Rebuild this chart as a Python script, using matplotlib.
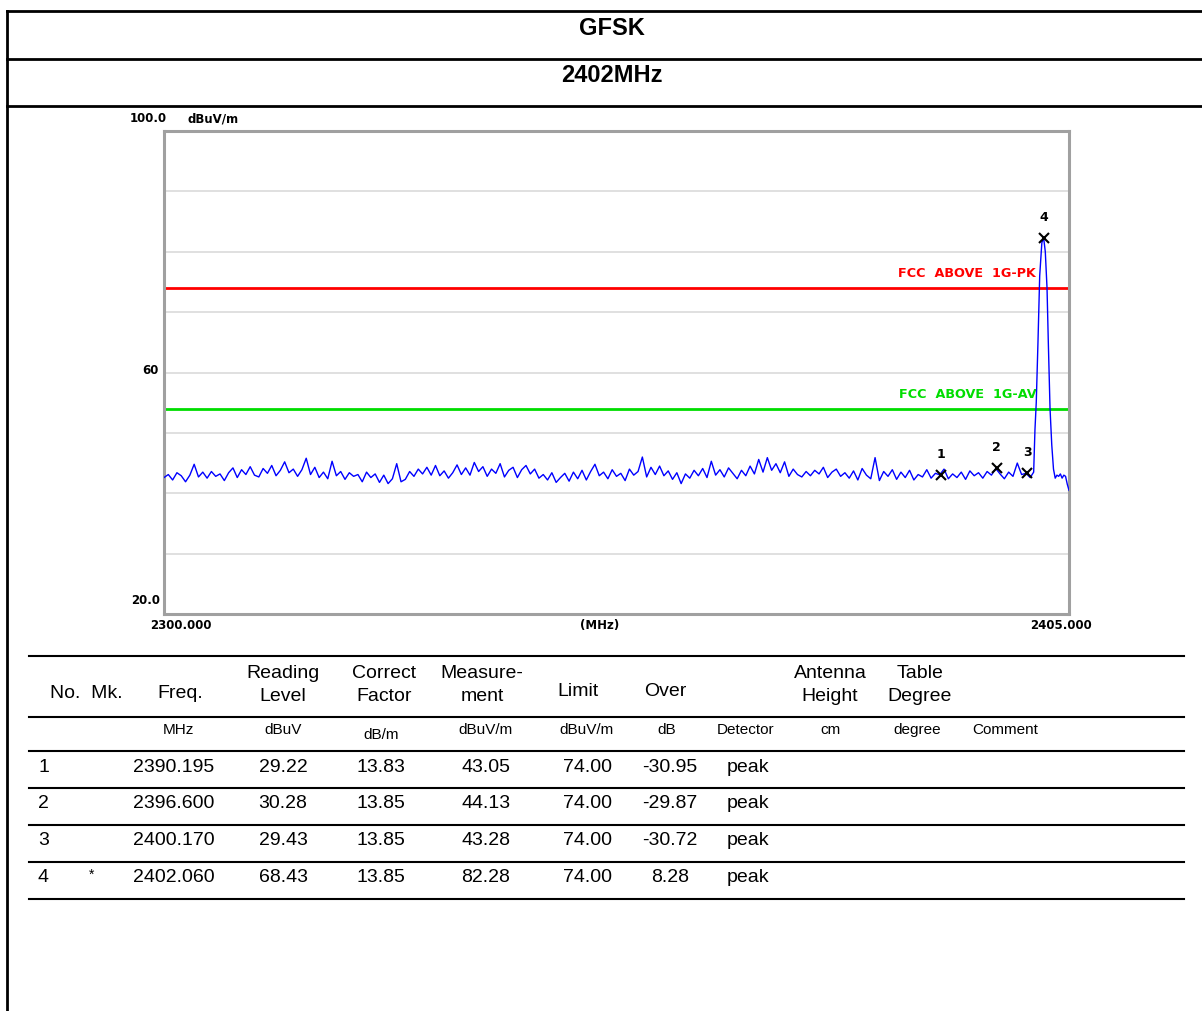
import matplotlib.pyplot as plt
import numpy as np
from matplotlib.lines import Line2D

# page size in pixels
W, H = 1202, 1012

# sweep trace (dBuV/m), 2300.0 .. 2400.5 MHz every 0.5 MHz
noise_level = [
    42.6, 43.1, 42.2, 43.4, 42.9, 41.9, 43.0, 44.8, 42.7, 43.5,
    42.5, 43.6, 42.8, 43.2, 42.1, 43.4, 44.2, 42.6, 43.9, 43.1,
    44.4, 43.0, 42.7, 44.1, 43.3, 44.6, 42.9, 43.8, 45.2, 43.4,
    44.0, 42.8, 43.9, 45.8, 43.1, 44.3, 42.6, 43.5, 42.4, 45.3,
    42.9, 43.6, 42.3, 43.4, 42.8, 43.1, 41.9, 43.5, 42.6, 43.2,
    41.8, 43.0, 41.6, 42.4, 44.9, 41.9, 42.3, 43.6, 42.8, 44.0,
    43.2, 44.3, 43.0, 44.6, 42.9, 43.7, 42.5, 43.4, 44.7, 43.1,
    44.2, 43.0, 45.1, 43.6, 44.4, 42.8, 44.0, 43.3, 44.9, 42.7,
    43.8, 44.3, 42.6, 43.9, 44.6, 43.2, 44.0, 42.5, 43.1, 42.2,
    43.4, 41.8, 42.6, 43.3, 42.0, 43.5, 42.4, 43.8, 42.2, 43.6,
    44.8, 42.9, 43.5, 42.4, 43.9, 42.8, 43.3, 42.1, 44.0, 43.0,
    43.6, 46.0, 42.7, 44.3, 43.1, 44.5, 42.9, 43.7, 42.3, 43.4,
    41.6, 43.2, 42.5, 43.8, 42.9, 44.1, 42.6, 45.3, 43.0, 43.9,
    42.7, 44.2, 43.3, 42.4, 43.8, 42.9, 44.5, 43.2, 45.6, 43.5,
    45.9, 43.8, 44.9, 43.4, 45.2, 42.8, 44.0, 43.1, 42.7, 43.6,
    42.9, 43.8, 43.2, 44.3, 42.6, 43.5, 44.0, 42.8, 43.4, 42.5,
    43.7, 42.2, 44.1, 43.0, 42.4, 45.9, 42.1, 43.6, 42.8, 43.9,
    42.3, 43.5, 42.6, 43.8, 42.2, 43.1, 42.7, 43.9, 42.5, 43.3,
    43.05, 44.0, 42.4, 43.2, 42.6, 43.5, 42.3, 43.7, 42.9, 43.4,
    42.5, 43.6, 43.0, 44.1, 43.2, 42.4, 43.5, 42.8, 45.0, 43.1,
    43.3, 42.6,
]
noise_freq = np.linspace(2300.0, 2400.5, len(noise_level))

# carrier and tail of the sweep
peak_freq = [2400.9, 2401.05, 2401.2, 2401.4, 2401.6, 2401.85, 2402.06, 2402.25,
             2402.45, 2402.6, 2402.8, 2403.0, 2403.2, 2403.4, 2403.6, 2403.8,
             2404.0, 2404.2, 2404.4, 2404.6, 2404.8, 2405.0]
peak_level = [43.5, 50.5, 55.0, 65.0, 76.0, 81.5, 82.28, 80.0,
              74.0, 65.0, 54.0, 48.0, 44.0, 42.5, 43.0, 42.8,
              43.2, 42.5, 43.0, 42.8, 41.5, 40.5]

# limits
limit_pk = 74.0
limit_av = 54.0

# marker table
mk_no = ['1', '2', '3', '4']
mk_flag = ['', '', '', '*']
mk_freq = [2390.195, 2396.600, 2400.170, 2402.060]
mk_reading = [29.22, 30.28, 29.43, 68.43]
mk_factor = [13.83, 13.85, 13.85, 13.85]
mk_meas = [43.05, 44.13, 43.28, 82.28]
mk_limit = [74.00, 74.00, 74.00, 74.00]
mk_over = [-30.95, -29.87, -30.72, 8.28]
mk_det = ['peak', 'peak', 'peak', 'peak']


def fx(x):
    return x / W


def fy(y):
    return 1 - y / H


fig = plt.figure(figsize=(W / 100, H / 100), dpi=100)
fig.patch.set_facecolor('white')


def hline(y, x0, x1, lw=1.5, color='black'):
    fig.add_artist(Line2D([fx(x0), fx(x1)], [fy(y), fy(y)], lw=lw, color=color))


# page frame and title cells
fig.add_artist(Line2D([fx(7), fx(7)], [fy(12), fy(1012)], lw=2, color='black'))
for yy in [12, 60, 107]:
    hline(yy, 7, 1202, lw=2)
fig.text(fx(612), fy(29), 'GFSK', ha='center', va='center', fontsize=17,
         fontweight='bold', family='Liberation Sans')
fig.text(fx(612), fy(76), '2402MHz', ha='center', va='center', fontsize=17,
         fontweight='bold', family='Liberation Sans')

# spectrum plot
ax = fig.add_axes([fx(164), fy(615), (1069 - 164) / W, (615 - 132) / H])
ax.set_xlim(2300, 2405)
ax.set_ylim(20, 100)
ax.set_xticks([])
ax.set_yticks([])
for s in ax.spines.values():
    s.set_color('#a0a0a0')
    s.set_linewidth(2.2)
for g in [30, 40, 50, 60, 70, 80, 90]:
    ax.axhline(g, color='#dadada', lw=1.2, zorder=1)

ax.axhline(limit_pk, color='#ff0000', lw=2, zorder=2)
ax.axhline(limit_av, color='#00dd00', lw=2, zorder=2)
ax.text(2401.2, limit_pk + 1.5, 'FCC  ABOVE  1G-PK', color='#ff0000', ha='right',
        va='bottom', fontsize=9.2, fontweight='bold')
ax.text(2401.2, limit_av + 1.5, 'FCC  ABOVE  1G-AV', color='#00dd00', ha='right',
        va='bottom', fontsize=9.2, fontweight='bold')

ax.plot(list(noise_freq) + peak_freq, noise_level + peak_level, color='#0000ff',
        lw=1, zorder=3)

ax.plot(mk_freq, mk_meas, 'x', color='black', ms=7, mew=1.5, zorder=4)
for n, f, v in zip(mk_no, mk_freq, mk_meas):
    ax.annotate(n, (f, v), xytext=(0, 11), textcoords='offset points', ha='center',
                va='bottom', fontsize=9, fontweight='bold')

lab = dict(fontsize=8.5, fontweight='bold', va='center')
fig.text(fx(167), fy(119), '100.0', ha='right', **lab)
fig.text(fx(188), fy(119), 'dBuV/m', ha='left', **lab)
fig.text(fx(159), fy(370), '60', ha='right', **lab)
fig.text(fx(160), fy(600), '20.0', ha='right', **lab)
fig.text(fx(181), fy(626), '2300.000', ha='center', **lab)
fig.text(fx(600), fy(626), '(MHz)', ha='center', **lab)
fig.text(fx(1061), fy(626), '2405.000', ha='center', **lab)

# marker table
tf = 'Liberation Sans'
for yy in [657, 718, 752, 789, 826, 863, 900]:
    hline(yy, 29, 1184, lw=1.5)

hd = dict(ha='center', va='center', fontsize=14, family=tf, linespacing=1.4)
fig.text(fx(86), fy(694), 'No.  Mk.', **hd)
fig.text(fx(180), fy(694), 'Freq.', **hd)
fig.text(fx(283), fy(685), 'Reading\nLevel', **hd)
fig.text(fx(384), fy(685), 'Correct\nFactor', **hd)
fig.text(fx(482), fy(685), 'Measure-\nment', **hd)
fig.text(fx(578), fy(692), 'Limit', **hd)
fig.text(fx(665), fy(692), 'Over', **hd)
fig.text(fx(830), fy(685), 'Antenna\nHeight', **hd)
fig.text(fx(920), fy(685), 'Table\nDegree', **hd)

un = dict(ha='center', va='center', fontsize=11, family=tf)
fig.text(fx(178), fy(730), 'MHz', **un)
fig.text(fx(283), fy(730), 'dBuV', **un)
fig.text(fx(381), fy(735), 'dB/m', **un)
fig.text(fx(486), fy(730), 'dBuV/m', **un)
fig.text(fx(587), fy(730), 'dBuV/m', **un)
fig.text(fx(667), fy(730), 'dB', **un)
fig.text(fx(746), fy(730), 'Detector', **un)
fig.text(fx(830), fy(730), 'cm', **un)
fig.text(fx(917), fy(730), 'degree', **un)
fig.text(fx(1005), fy(730), 'Comment', **un)

rw = dict(va='center', fontsize=14, family=tf)
row_y = [768, 804, 841, 878]
for i, yy in enumerate(row_y):
    fig.text(fx(38), fy(yy), mk_no[i], ha='left', **rw)
    if mk_flag[i]:
        fig.text(fx(92), fy(yy - 3), mk_flag[i], ha='center', va='center',
                 fontsize=10, family=tf)
    fig.text(fx(174), fy(yy), f'{mk_freq[i]:.3f}', ha='center', **rw)
    fig.text(fx(283), fy(yy), f'{mk_reading[i]:.2f}', ha='center', **rw)
    fig.text(fx(381), fy(yy), f'{mk_factor[i]:.2f}', ha='center', **rw)
    fig.text(fx(486), fy(yy), f'{mk_meas[i]:.2f}', ha='center', **rw)
    fig.text(fx(587), fy(yy), f'{mk_limit[i]:.2f}', ha='center', **rw)
    fig.text(fx(670), fy(yy), f'{mk_over[i]:.2f}', ha='center', **rw)
    fig.text(fx(748), fy(yy), mk_det[i], ha='center', **rw)

fig.savefig('out.png', dpi=100)
